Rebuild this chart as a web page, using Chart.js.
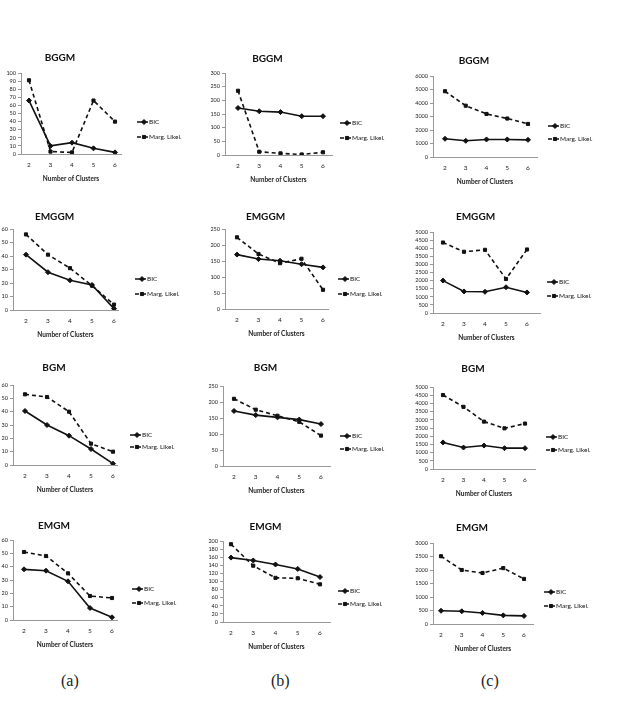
<!DOCTYPE html>
<html>
<head>
<meta charset="utf-8">
<script src="https://cdn.jsdelivr.net/npm/chart.js@4"></script>
<style>
  body { margin: 0; background: #fff; }
  #page { position: relative; width: 631px; height: 702px; overflow: hidden; background: #fff; }
  #page canvas { position: absolute; }
  .cap { position: absolute; top: 672px; font: 16px "Liberation Serif", "DejaVu Serif", serif; color: #222; }
</style>
</head>
<body>
<div id="page">
  <div class="cap" style="left:61px">(a)</div>
  <div class="cap" style="left:271px">(b)</div>
  <div class="cap" style="left:481px">(c)</div>
</div>
<script>
const categories = [2, 3, 4, 5, 6];
const seriesNames = ['BIC', 'Marg. Likel.'];

// column (a)
const bggmA_bic = [66, 10, 14, 7, 2];
const bggmA_marg = [91, 3, 2, 66, 40];
const emggmA_bic = [41, 28, 22, 18.5, 1];
const emggmA_marg = [56, 41, 31, 18, 4];
const bgmA_bic = [40.5, 30, 22, 12, 1];
const bgmA_marg = [53, 51, 40, 16, 10];
const emgmA_bic = [38, 37, 29, 9, 2];
const emgmA_marg = [51, 48, 35, 18, 16.5];

// column (b)
const bggmB_bic = [172, 160, 157, 142, 142];
const bggmB_marg = [235, 12, 6, 2, 10];
const emggmB_bic = [170, 156, 151, 140, 130];
const emggmB_marg = [224, 172, 143, 157, 60];
const bgmB_bic = [172, 159, 152, 145, 131];
const bgmB_marg = [210, 176, 157, 138, 95];
const emgmB_bic = [159, 152, 142, 131, 111];
const emgmB_marg = [192, 139, 109, 108, 93];

// column (c)
const bggmC_bic = [1350, 1200, 1300, 1300, 1270];
const bggmC_marg = [4870, 3800, 3190, 2850, 2450];
const emggmC_bic = [2000, 1330, 1310, 1590, 1270];
const emggmC_marg = [4350, 3780, 3900, 2100, 3920];
const bgmC_bic = [1620, 1310, 1430, 1270, 1270];
const bgmC_marg = [4510, 3790, 2890, 2480, 2770];
const emgmC_bic = [490, 470, 410, 320, 300];
const emgmC_marg = [2510, 2000, 1890, 2070, 1670];

// y axis ranges (top tick, step)
const yMaxA = [100, 60, 60, 60];
const yStepA = [10, 10, 10, 10];
const yMaxB = [300, 250, 250, 200];
const yStepB = [50, 50, 50, 20];
const yMaxC = [6000, 5000, 5000, 3000];
const yStepC = [1000, 500, 500, 500];

// L/R = axis ends, x2/x6 = first/last category pixel, T/B = top/bottom of plot,
// tx/ty = title centre, lx/ly = legend position (page pixels)
const panels = [
  { title: 'BGGM', bic: bggmA_bic, marg: bggmA_marg, yMax: yMaxA[0], yStep: yStepA[0], L: 21, x2: 29, x6: 115, R: 121, T: 73, B: 154, tx: 93, ty: 58, lx: 137, ly: [122, 137] },
  { title: 'BGGM', bic: bggmB_bic, marg: bggmB_marg, yMax: yMaxB[0], yStep: yStepB[0], L: 225, x2: 238, x6: 323, R: 332, T: 73, B: 155, tx: 300, ty: 59, lx: 340, ly: [123, 138] },
  { title: 'BGGM', bic: bggmC_bic, marg: bggmC_marg, yMax: yMaxC[0], yStep: yStepC[0], L: 433, x2: 445, x6: 528, R: 537, T: 76, B: 157, tx: 505, ty: 61, lx: 548, ly: [126, 139] },

  { title: 'EMGGM', bic: emggmA_bic, marg: emggmA_marg, yMax: yMaxA[1], yStep: yStepA[1], L: 13, x2: 26, x6: 114, R: 118, T: 229, B: 310, tx: 92, ty: 217, lx: 135, ly: [279, 294] },
  { title: 'EMGGM', bic: emggmB_bic, marg: emggmB_marg, yMax: yMaxB[1], yStep: yStepB[1], L: 225, x2: 237, x6: 323, R: 328, T: 229, B: 309, tx: 303, ty: 217, lx: 338, ly: [279, 294] },
  { title: 'EMGGM', bic: emggmC_bic, marg: emggmC_marg, yMax: yMaxC[1], yStep: yStepC[1], L: 433, x2: 443, x6: 527, R: 540, T: 232, B: 313, tx: 503, ty: 217, lx: 547, ly: [282, 296] },

  { title: 'BGM', bic: bgmA_bic, marg: bgmA_marg, yMax: yMaxA[2], yStep: yStepA[2], L: 13, x2: 25, x6: 113, R: 117, T: 385, B: 465, tx: 90, ty: 368, lx: 130, ly: [435, 447] },
  { title: 'BGM', bic: bgmB_bic, marg: bgmB_marg, yMax: yMaxB[2], yStep: yStepB[2], L: 223, x2: 234, x6: 321, R: 330, T: 386, B: 466, tx: 298, ty: 368, lx: 340, ly: [436, 449] },
  { title: 'BGM', bic: bgmC_bic, marg: bgmC_marg, yMax: yMaxC[2], yStep: yStepC[2], L: 433, x2: 443, x6: 525, R: 535, T: 387, B: 469, tx: 502, ty: 369, lx: 546, ly: [437, 450] },

  { title: 'EMGM', bic: emgmA_bic, marg: emgmA_marg, yMax: yMaxA[3], yStep: yStepA[3], L: 13, x2: 24, x6: 112, R: 117, T: 540, B: 620, tx: 88, ty: 526, lx: 132, ly: [589, 603] },
  { title: 'EMGM', bic: emgmB_bic, marg: emgmB_marg, yMax: yMaxB[3], yStep: yStepB[3], L: 223, x2: 231, x6: 320, R: 330, T: 541, B: 622, tx: 303, ty: 527, lx: 338, ly: [591, 604] },
  { title: 'EMGM', bic: emgmC_bic, marg: emgmC_marg, yMax: yMaxC[3], yStep: yStepC[3], L: 433, x2: 441, x6: 524, R: 533, T: 543, B: 624, tx: 502, ty: 528, lx: 544, ly: [592, 606] },
];

// legend drawn beside the plot, Excel style (line + marker + label)
const sideLegend = {
  id: 'sideLegend',
  afterDraw(chart, args, opts) {
    const ctx = chart.ctx;
    chart.data.datasets.forEach((ds, i) => {
      const x = opts.x;
      const y = opts.y[i];
      ctx.save();
      ctx.strokeStyle = '#111';
      ctx.fillStyle = '#111';
      ctx.lineWidth = 1.5;
      ctx.setLineDash(ds.borderDash || []);
      ctx.beginPath();
      ctx.moveTo(x, y);
      ctx.lineTo(x + 11, y);
      ctx.stroke();
      ctx.setLineDash([]);
      ctx.lineWidth = 1;
      Chart.helpers.drawPoint(ctx, { pointStyle: ds.pointStyle, radius: ds.pointRadius, borderWidth: 1, rotation: 0 }, x + 7, y);
      ctx.font = '6.5px Lato, "Open Sans", sans-serif';
      ctx.textBaseline = 'middle';
      ctx.fillText(ds.label, x + 12, y);
      ctx.restore();
    });
  }
};

const page = document.getElementById('page');

function buildPanel(p) {
  const left = p.L - 22;
  const top = p.ty - 6;
  const W = Math.round(2 * (p.tx - left));
  const H = Math.round(p.B - top + 29);
  const step = (p.x6 - p.x2) / 4;

  const canvas = document.createElement('canvas');
  canvas.width = W;
  canvas.height = H;
  canvas.style.left = left + 'px';
  canvas.style.top = top + 'px';
  page.appendChild(canvas);

  const toPts = vals => categories.map((c, i) => ({ x: c, y: vals[i] }));

  new Chart(canvas, {
    type: 'line',
    data: {
      datasets: [
        {
          label: seriesNames[0],
          data: toPts(p.bic),
          borderColor: '#111',
          backgroundColor: '#111',
          borderWidth: 1.6,
          pointStyle: 'rectRot',
          pointRadius: 2.5,
          pointBorderWidth: 1,
          tension: 0,
        },
        {
          label: seriesNames[1],
          data: toPts(p.marg),
          borderColor: '#111',
          backgroundColor: '#111',
          borderWidth: 1.6,
          borderDash: [4, 3],
          pointStyle: 'rect',
          pointRadius: 2.2,
          pointBorderWidth: 1,
          tension: 0,
        },
      ],
    },
    options: {
      responsive: false,
      animation: false,
      devicePixelRatio: 1,
      layout: { padding: { left: 0, top: 0, bottom: 0, right: W - (p.R - left) } },
      plugins: {
        legend: { display: false },
        tooltip: { enabled: false },
        title: {
          display: true,
          text: p.title,
          color: '#111',
          font: { family: 'Lato, "Open Sans", sans-serif', size: 10, weight: 'bold', lineHeight: 1.2 },
          padding: { top: 0, bottom: p.T - top - 12 },
        },
        sideLegend: { x: p.lx - left, y: p.ly.map(v => v - top) },
      },
      scales: {
        x: {
          type: 'linear',
          min: 2 - (p.x2 - p.L) / step,
          max: 6 + (p.R - p.x6) / step,
          afterBuildTicks: s => { s.ticks = categories.map(v => ({ value: v })); },
          afterFit: s => { s.height = 29; },
          grid: { drawOnChartArea: false, drawTicks: false },
          border: { color: '#999', width: 1 },
          ticks: { color: '#222', padding: 7, font: { family: 'Lato, sans-serif', size: 6.5 } },
          title: {
            display: true,
            text: 'Number of Clusters',
            color: '#222',
            padding: 0,
            font: { family: 'Lato, sans-serif', size: 6.5, weight: 'bold', lineHeight: 1.2 },
          },
        },
        y: {
          min: 0,
          max: p.yMax,
          afterFit: s => { s.width = 22; },
          grid: { drawOnChartArea: false, drawTicks: true, tickLength: 3, color: '#999' },
          border: { color: '#999', width: 1 },
          ticks: {
            stepSize: p.yStep,
            autoSkip: false,
            color: '#222',
            padding: 2,
            font: { family: 'Lato, sans-serif', size: 5.5 },
            callback: v => String(v),
          },
        },
      },
    },
    plugins: [sideLegend],
  });
}

panels.forEach(buildPanel);
</script>
</body>
</html>
